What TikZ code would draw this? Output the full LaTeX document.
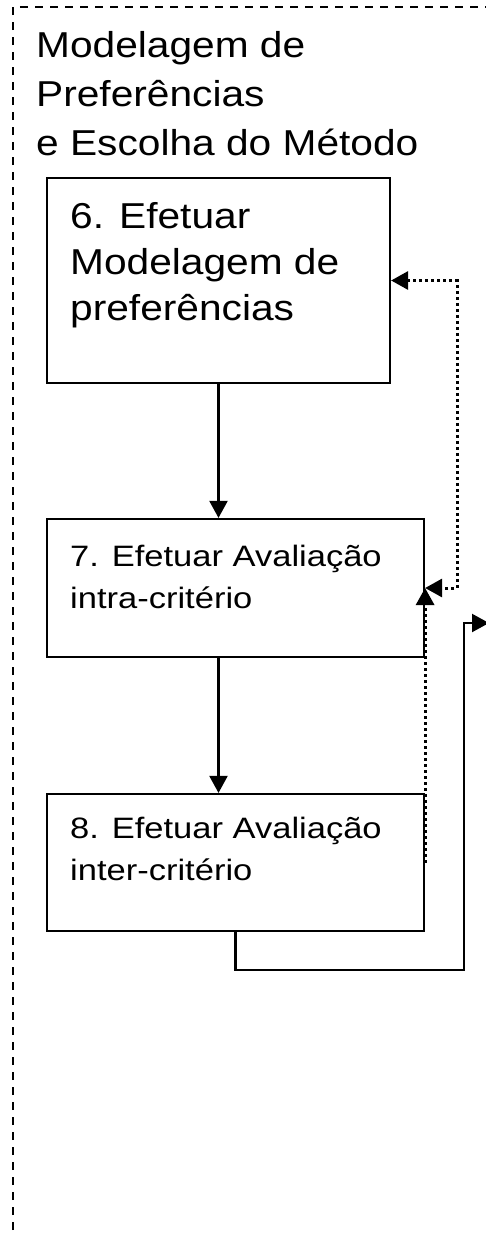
\documentclass[tikz,border=0pt]{standalone}
\usepackage{fontspec}
\setmainfont[FakeStretch=1.13]{Liberation Sans}
\newfontfamily\boxfont[FakeStretch=1.17]{Liberation Sans}
\usetikzlibrary{arrows.meta}
\begin{document}
\begin{tikzpicture}[x=1pt,y=-1pt,
  >={Triangle[length=17pt,width=18pt]},
  stepbox/.style={draw, line width=2.2pt, inner sep=0pt, rectangle},
  bigtext/.style={anchor=base west, inner sep=0pt, align=left, font=\fontsize{36}{46}\selectfont},
  smalltext/.style={anchor=base west, inner sep=0pt, align=left, font=\boxfont\fontsize{29.5}{42}\selectfont},
  flow/.style={line width=2.2pt, ->},
  feedback/.style={line width=3pt, dash pattern=on 3pt off 3pt},
  frame/.style={line width=1.6pt, dash pattern=on 8pt off 7pt}]
\useasboundingbox (0,0) rectangle (486,1237);

% outer dashed frame (only its top and left sides fall inside the page)
\draw[frame] (13,1245) -- (13,7) -- (495,7);

% frame title (anchored at the baseline of its last line)
\node[bigtext, font=\fontsize{36}{49}\selectfont] (title) at (36,155)
  {Modelagem de\\Preferências\\e Escolha do Método};

% step boxes
\node[stepbox, minimum width=343pt, minimum height=205pt] (b6) at (218.5,280.5) {};
\node[stepbox, minimum width=377pt, minimum height=138pt] (b7) at (235.5,588) {};
\node[stepbox, minimum width=377pt, minimum height=137pt] (b8) at (235.5,862.5) {};

\node[bigtext] (t6) at (70,320) {6. Efetuar\\Modelagem de\\preferências};
\node[smalltext] (t7) at (70,608) {7. Efetuar Avaliação\\intra-critério};
\node[smalltext] (t8) at (70,880) {8. Efetuar Avaliação\\inter-critério};

% main flow
\draw[flow] (b6.south) -- (b6.south |- b7.north);
\draw[flow] (b6.south |- b7.south) -- (b6.south |- b8.north);

% feedback loops
\draw[feedback, <->] (b6.east) -- ++(66,0) |- (b7.east);
\draw[feedback, ->] (b8.east) -- (b7.east);

% exit connector
\coordinate (turn) at (464,970);
\coordinate (out) at (489,623);
\draw[flow] (b8.south) |- (turn) |- (out);
\end{tikzpicture}
\end{document}
